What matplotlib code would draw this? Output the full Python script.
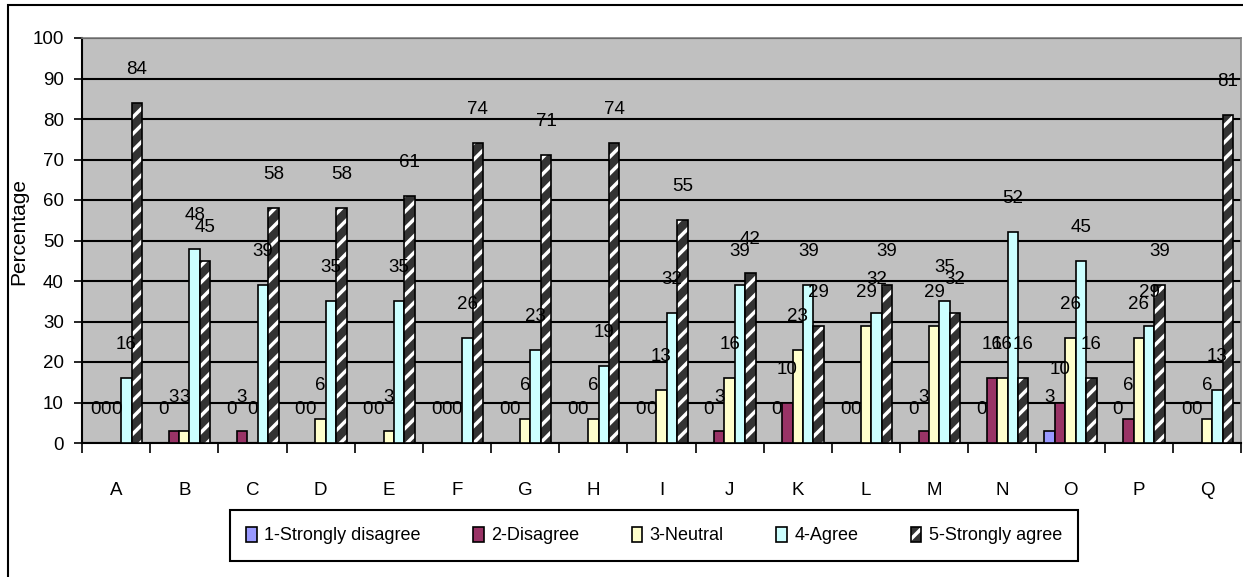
import matplotlib.pyplot as plt
import numpy as np
from matplotlib.patches import Rectangle
from matplotlib.legend_handler import HandlerTuple

items = list("ABCDEFGHIJKLMNOPQ")
series_names = ["1-Strongly disagree", "2-Disagree", "3-Neutral", "4-Agree", "5-Strongly agree"]
strongly_disagree = [0, 0, 0, 0, 0, 0, 0, 0, 0, 0, 0, 0, 0, 0, 3, 0, 0]
disagree = [0, 3, 3, 0, 0, 0, 0, 0, 0, 3, 10, 0, 3, 16, 10, 6, 0]
neutral = [0, 3, 0, 6, 3, 0, 6, 6, 13, 16, 23, 29, 29, 16, 26, 26, 6]
agree = [16, 48, 39, 35, 35, 26, 23, 19, 32, 39, 39, 32, 35, 52, 45, 29, 13]
strongly_agree = [84, 45, 58, 58, 61, 74, 71, 74, 55, 42, 29, 39, 32, 16, 16, 39, 81]

colors = ["#9999FF", "#993366", "#FFFFCC", "#CCFFFF", "#333333"]

plt.rcParams["font.family"] = ["Liberation Sans", "DejaVu Sans"]
plt.rcParams["hatch.linewidth"] = 2.5

fig = plt.figure(figsize=(12.43, 5.77), dpi=100)
ax = fig.add_axes([82 / 1243, 134 / 577, 1159 / 1243, 405 / 577])
ax.set_facecolor("#C0C0C0")

x = np.arange(len(items))
w = 0.153
data = [strongly_disagree, disagree, neutral, agree, strongly_agree]
handles = []
for i, vals in enumerate(data):
    pos = x + (i - 2) * w
    if i < 4:
        bars = ax.bar(pos, vals, w, color=colors[i], edgecolor="black", linewidth=1.2, zorder=3)
        handles.append(bars)
    else:
        # dark bars with white diagonal stripes, outlined in black
        fill = ax.bar(pos, vals, w, color=colors[i], edgecolor="white", hatch="//", linewidth=0, zorder=3)
        bars = ax.bar(pos, vals, w, fill=False, edgecolor="black", linewidth=1.2, zorder=4)
        handles.append((fill, bars))
    ax.bar_label(bars, labels=[str(v) for v in vals], padding=18, fontsize=13.5, zorder=5)

ax.set_xlim(-0.5, len(items) - 0.5)
ax.set_ylim(0, 100)
ax.set_yticks(range(0, 101, 10))
ax.yaxis.grid(True, color="black", linewidth=1.5, zorder=1)
ax.set_axisbelow(True)

ax.set_xticks(x)
ax.set_xticklabels(items, fontsize=13.5)
ax.set_xticks(np.arange(-0.5, len(items)), minor=True)
ax.tick_params(axis="x", which="major", length=0, pad=28)
ax.tick_params(axis="x", which="minor", length=7, width=1.2, direction="out")
ax.tick_params(axis="y", length=6, width=1.2, pad=7, labelsize=13.5)

for side in ["left", "bottom"]:
    ax.spines[side].set_color("black")
    ax.spines[side].set_linewidth(1.5)
for side in ["top", "right"]:
    ax.spines[side].set_color("#808080")
    ax.spines[side].set_linewidth(1.2)

ax.set_ylabel("Percentage", fontsize=15)
ax.yaxis.set_label_coords(-0.0466, 0.521)

leg = fig.legend(handles, series_names, loc="center", bbox_to_anchor=(654 / 1243, 1 - 535.5 / 577),
                 ncol=5, fontsize=13, frameon=True, fancybox=False, edgecolor="black",
                 framealpha=1, handlelength=0.6, handleheight=0.9, handletextpad=0.4,
                 columnspacing=2.9, borderpad=0.9,
                 handler_map={tuple: HandlerTuple(ndivide=1)})
leg.get_frame().set_linewidth(1.5)

# outer chart border
fig.add_artist(Rectangle((7.5 / 1243, -0.1), 1.2, 1.1 - 5 / 577, transform=fig.transFigure,
                         fill=False, edgecolor="black", linewidth=1.5))

fig.savefig("out.png", dpi=100)
